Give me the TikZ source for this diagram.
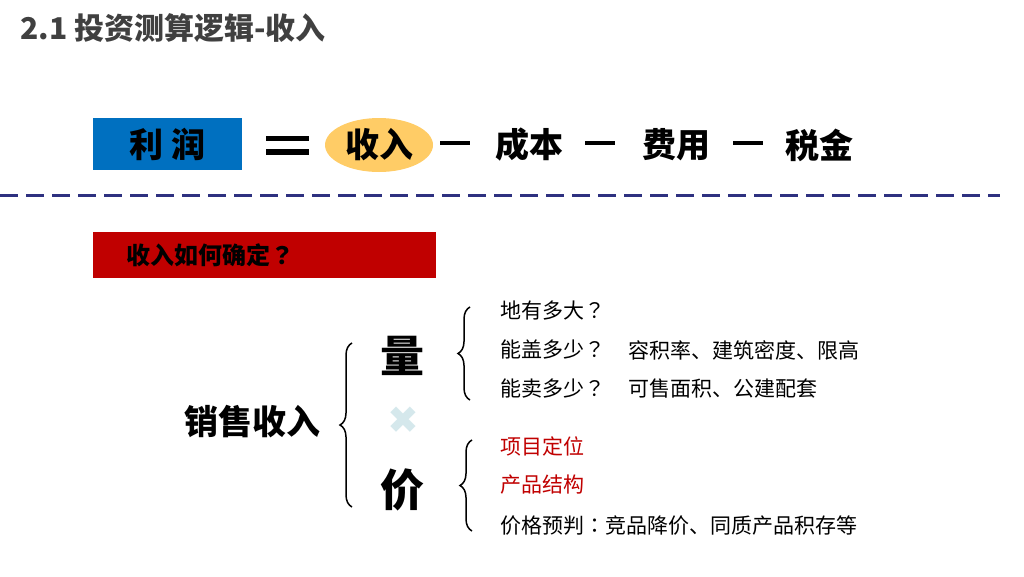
\documentclass[tikz,border=0pt]{standalone}
\usepackage{fontspec}
\setmainfont{Noto Sans CJK SC}
\newfontfamily\symfont{DejaVu Sans}
\newfontfamily\punct{Noto Sans CJK TC}
\usetikzlibrary{positioning,shapes.geometric,decorations.pathreplacing}
\definecolor{titlegray}{HTML}{404040}
\definecolor{profitblue}{HTML}{0070C0}
\definecolor{incomegold}{HTML}{FFCC66}
\definecolor{dashnavy}{HTML}{2E3180}
\definecolor{askred}{HTML}{C00000}
\definecolor{timesmist}{HTML}{D5E8EC}
\newcommand{\sizept}[1]{\fontsize{#1pt}{#1pt}\selectfont}
\newcommand{\qm}{{\punct ？}}
\newcommand{\minusbar}{\rule{30pt}{4.5pt}}
\newcommand{\equalbars}{\shortstack{\rule{43pt}{5.5pt}\\[5pt]\rule{43pt}{5.5pt}}}

\begin{document}
\begin{tikzpicture}[
  x=1pt,y=-1pt,
  eqterm/.style={font=\bfseries\sizept{34},inner sep=0pt},
  bigword/.style={font=\bfseries\sizept{44},inner sep=0pt},
  item/.style={font=\sizept{21},anchor=west,inner sep=0pt},
  keyitem/.style={item,text=askred},
  brc/.style={decorate,decoration={brace,amplitude=12pt},line width=1.5pt}
]
\useasboundingbox (0,0) rectangle (1024,576);

% title
\node[anchor=west,font=\bfseries\sizept{30},text=titlegray,inner sep=0pt]
  (title) at (20,28) {2.1 投资测算逻辑-收入};

% profit equation
\node[eqterm,fill=profitblue,minimum width=149pt,minimum height=52pt]
  (profit) at (167.5,144) {利 润};
\node[inner sep=0pt] (eq) at (287,145) {\equalbars};
\node[eqterm,ellipse,fill=incomegold,minimum width=108pt,minimum height=54pt]
  (income) at (379,145) {收入};
\node[inner sep=0pt] (minusa) at (455,143) {\minusbar};
\node[eqterm] (cost) at (529,145) {成本};
\node[inner sep=0pt] (minusb) at (600,143) {\minusbar};
\node[eqterm] (fee) at (676,145) {费用};
\node[inner sep=0pt] (minusc) at (748,143) {\minusbar};
\node[eqterm] (tax) at (819,145) {税金};

% separator
\coordinate (sepl) at (0,195);
\coordinate (sepr) at (1000,195);
\draw[dashnavy,line width=3pt,dash pattern=on 18pt off 8pt] (sepl) -- (sepr);

% question bar
\node[fill=askred,anchor=west,minimum width=343pt,minimum height=46pt,
      text width=277pt,inner xsep=33pt,align=left,
      font=\bfseries\sizept{24}] (ask) at (93,255) {收入如何确定\qm};

% sales income = volume x price
\node[eqterm] (sales) at (252,422) {销售收入};
\node[bigword] (volume) at (402,356) {量};
\node[font=\symfont\bfseries\sizept{38},text=timesmist,inner sep=0pt]
  (times) at (403,420) {✖};
\node[bigword] (price) at (402,490) {价};

% volume items
\node[item] (land) at (500,311) {地有多大\qm};
\node[item] (build) at (500,350) {能盖多少\qm};
\node[item] (buildkey) at (628,350) {容积率、建筑密度、限高};
\node[item] (sell) at (500,389) {能卖多少\qm};
\node[item] (sellkey) at (628,389) {可售面积、公建配套};

% price items
\node[keyitem] (position) at (500,446) {项目定位};
\node[keyitem] (structure) at (500,485) {产品结构};
\node[item] (forecast) at (500,526) {价格预判{\punct ：}竞品降价、同质产品积存等};

% braces
\coordinate (bigbot) at (352,507);
\coordinate (bigtop) at (352,343);
\coordinate (volbot) at (470,400);
\coordinate (voltop) at (470,307);
\coordinate (pricebot) at (472,531);
\coordinate (pricetop) at (472,440);
\draw[brc] (bigbot) -- (bigtop);
\draw[brc] (volbot) -- (voltop);
\draw[brc] (pricebot) -- (pricetop);
\end{tikzpicture}
\end{document}
